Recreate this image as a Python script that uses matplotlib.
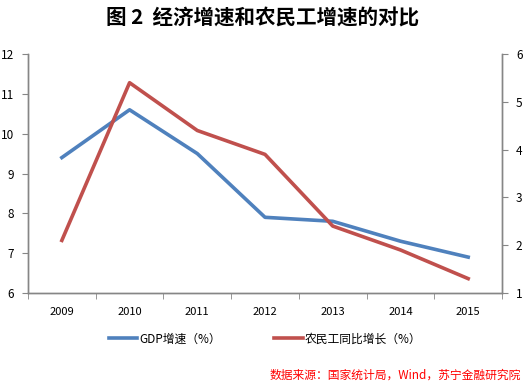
import matplotlib
matplotlib.use("Agg")
import matplotlib.pyplot as plt
import numpy as np

plt.rcParams['font.family'] = ['Noto Sans CJK SC', 'DejaVu Sans']

years = ['2009', '2010', '2011', '2012', '2013', '2014', '2015']
gdp = [9.4, 10.6, 9.5, 7.9, 7.8, 7.3, 6.9]
migrant = [2.1, 5.4, 4.4, 3.9, 2.4, 1.9, 1.3]

blue = '#4F81BD'
red = '#C0504D'
grey = '#868686'

fig = plt.figure(figsize=(5.25, 3.86), dpi=100)
ax = fig.add_axes([0.0533, 0.241, 0.903, 0.619])
ax2 = ax.twinx()

x = np.arange(len(years))
l1, = ax.plot(x, gdp, color=blue, lw=2.6, label='GDP增速（%）')
l2, = ax2.plot(x, migrant, color=red, lw=2.6, label='农民工同比增长（%）')

ax.set_xlim(-0.5, len(years) - 0.5)
ax.set_ylim(6, 12)
ax2.set_ylim(1, 6)
ax.set_yticks(range(6, 13))
ax2.set_yticks(range(1, 7))

ax.set_xticks(x)
ax.set_xticklabels(years)
ax.set_xticks(np.arange(-0.5, len(years)), minor=True)
ax.tick_params(axis='x', which='major', length=0, pad=10, labelsize=8, colors='black')
ax.tick_params(axis='x', which='minor', length=4, color=grey)
ax.tick_params(axis='y', length=4, color=grey, labelsize=8.5, pad=6)
ax2.tick_params(axis='y', length=4, color=grey, labelsize=8.5, pad=6)

for a in (ax, ax2):
    a.spines['top'].set_visible(False)
    for s in ('left', 'right', 'bottom'):
        a.spines[s].set_color(grey)
        a.spines[s].set_linewidth(1.0)

fig.text(0.5, 0.953, '图 2  经济增速和农民工增速的对比', ha='center', va='center',
         fontsize=14.8, fontweight='bold')

fig.legend(handles=[l1, l2], loc='center', bbox_to_anchor=(0.505, 0.122), ncol=2,
           frameon=False, fontsize=8.5, handlelength=2.4, handletextpad=0.2,
           columnspacing=4.5)

fig.text(0.993, 0.028, '数据来源：国家统计局，Wind，苏宁金融研究院', ha='right', va='center',
         fontsize=8.5, color='#FF0000', style='italic')

fig.savefig('out.png', dpi=100)
